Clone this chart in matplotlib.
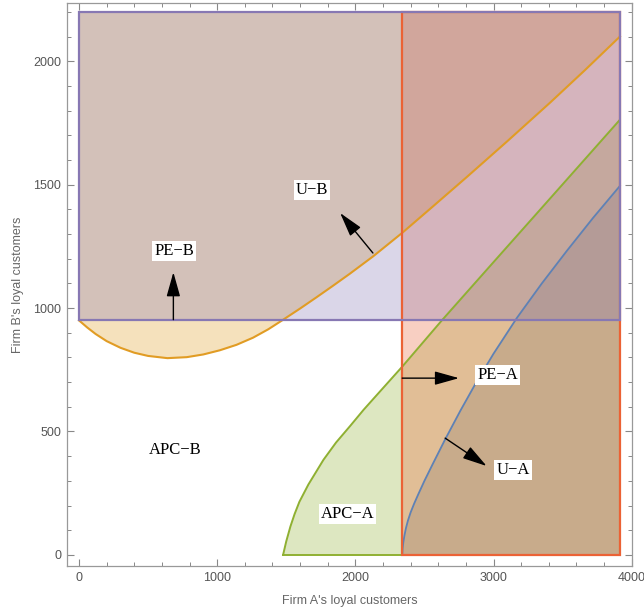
import numpy as np
import matplotlib
matplotlib.use("Agg")
import matplotlib.pyplot as plt
from matplotlib.patches import Polygon, FancyArrowPatch
from matplotlib.ticker import MultipleLocator

# curves (x = Firm A customers, y = Firm B customers)
ub_x = [0, 60, 120, 200, 300, 400, 500, 640, 780, 900, 1020, 1140, 1260, 1370, 1470,
        1600, 1720, 1840, 1960, 2130, 2340, 2560, 2807, 3100, 3411, 3660, 3915]
ub_y = [950, 921, 895, 866, 839, 819, 806, 797, 801, 812, 829, 851, 880, 914, 950,
        998, 1044, 1091, 1139, 1210, 1305, 1411, 1531, 1676, 1833, 1963, 2100]

apca_x = [1477, 1500, 1530, 1560, 1595, 1660, 1769, 1860, 1962, 2060, 2167, 2340, 2626, 3000, 3400, 3915]
apca_y = [0, 55, 115, 165, 215, 285, 385, 455, 522, 588, 655, 763, 950, 1186, 1438, 1763]

ua_x = [2340, 2342, 2347, 2355, 2366, 2380, 2400, 2425, 2455, 2500, 2560, 2650, 2760,
        2870, 3000, 3169, 3350, 3531, 3720, 3915]
ua_y = [0, 25, 50, 78, 108, 138, 172, 207, 245, 300, 368, 468, 584,
        694, 815, 960, 1100, 1232, 1365, 1495]

pe_a = 2340      # Firm A's PE line
pe_b = 950       # Firm B's PE line
x_end, y_end = 3915, 2200

labels = ["PE\u2212B", "U\u2212B", "PE\u2212A", "U\u2212A", "APC\u2212A"]
label_xy = [(688, 1233), (1685, 1477), (3029, 730), (3140, 342), (1944, 167)]
arrows = [((683, 953), (683, 1145)), ((2127, 1223), (1890, 1385)),
          ((2339, 716), (2750, 716)), ((2650, 473), (2950, 360))]

blue, orange, green = "#5E81B5", "#E19C24", "#8FB032"
red, purple = "#EB6235", "#8778B3"

fig = plt.figure(figsize=(6.44, 6.14), dpi=100)
ax = fig.add_axes([0.104, 0.0782, 0.8769, 0.9174])

# regions
ua_poly = list(zip(ua_x, ua_y)) + [(x_end, 0)]
ub_poly = list(zip(ub_x, ub_y)) + [(x_end, y_end), (0, y_end)]
apca_poly = list(zip(apca_x, apca_y)) + [(x_end, 0)]
pea_poly = [(pe_a, 0), (x_end, 0), (x_end, y_end), (pe_a, y_end)]
peb_poly = [(0, pe_b), (x_end, pe_b), (x_end, y_end), (0, y_end)]

alpha = 0.3
for poly, c in [(ua_poly, blue), (ub_poly, orange), (apca_poly, green),
                (pea_poly, red), (peb_poly, purple)]:
    ax.add_patch(Polygon(poly, closed=True, facecolor=c, edgecolor="none", alpha=alpha, zorder=1))

# boundaries
ax.plot(ua_x, ua_y, color=blue, lw=1.3, zorder=2, solid_joinstyle="round")
ax.plot(ub_x, ub_y, color=orange, lw=1.5, zorder=2, solid_joinstyle="round")
ax.plot(apca_x + [x_end], apca_y + [0], color=green, lw=1.4, zorder=2, solid_joinstyle="round")
ax.plot([x_end, apca_x[0]], [0, 0], color=green, lw=1.4, zorder=2)
ax.add_patch(Polygon(pea_poly, closed=True, fill=False, edgecolor=red, lw=1.6, zorder=3))
ax.add_patch(Polygon(peb_poly, closed=True, fill=False, edgecolor=purple, lw=1.6, zorder=3))

# arrows and labels
for (x0, y0), (x1, y1) in arrows:
    ax.add_patch(FancyArrowPatch((x0, y0), (x1, y1), arrowstyle="-|>,head_length=1.5,head_width=0.42",
                                 mutation_scale=10, color="black", lw=1.0, shrinkA=0, shrinkB=0, zorder=5))
for t, (x, y) in zip(labels, label_xy):
    ax.text(x, y, t, family="Liberation Serif", fontsize=12, ha="center", va="center", zorder=6,
            bbox=dict(boxstyle="square,pad=0.12", facecolor="white", edgecolor="none"))
ax.text(695, 426, "APC\u2212B", family="Liberation Serif", fontsize=12, ha="center", va="center", zorder=6)

ax.set_xlim(-87, 4000)
ax.set_ylim(-45, 2237)
ax.xaxis.set_major_locator(MultipleLocator(1000))
ax.xaxis.set_minor_locator(MultipleLocator(200))
ax.yaxis.set_major_locator(MultipleLocator(500))
ax.yaxis.set_minor_locator(MultipleLocator(100))
ax.tick_params(which="both", direction="in", top=True, right=True, colors="#888888",
               labelcolor="#555555", labelsize=9)
ax.tick_params(which="major", length=5, width=0.8, pad=4)
ax.tick_params(which="minor", length=3, width=0.7)
for lab in ax.get_xticklabels() + ax.get_yticklabels():
    lab.set_family("Liberation Sans")
for s in ax.spines.values():
    s.set_color("#999999")
    s.set_linewidth(0.9)

ax.set_xlabel("Firm A's loyal customers", family="Liberation Sans", fontsize=9, color="#666666", labelpad=8)
ax.set_ylabel("Firm B's loyal customers", family="Liberation Sans", fontsize=9, color="#666666", labelpad=7)

fig.savefig("out.png", dpi=100)
